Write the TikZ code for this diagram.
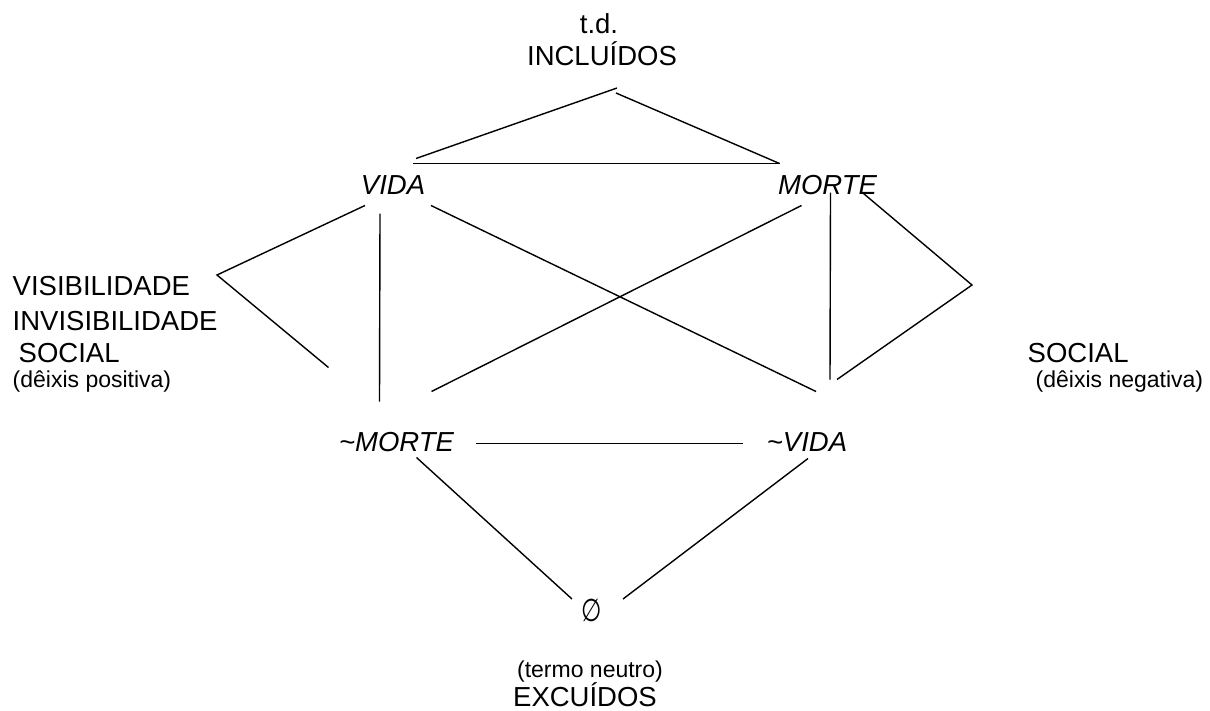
\documentclass[tikz,border=0pt]{standalone}
\usepackage{fontspec}
\setmainfont{Liberation Sans}
\newfontfamily\simbolo{DejaVu Sans}
\usepackage{tikz}
\usetikzlibrary{calc}

\tikzset{
  termo/.style={inner sep=0pt, font=\fontsize{27.5}{33}\selectfont\itshape},
  rotulo/.style={inner sep=0pt, anchor=base, font=\fontsize{27.5}{33}\selectfont},
  nota/.style={inner sep=0pt, anchor=base, font=\fontsize{23}{27}\selectfont},
}

\begin{document}
\begin{tikzpicture}[x=1pt, y=-1pt, line width=1.4pt]
  \useasboundingbox (0,0) rectangle (1210,710);

  \node[rotulo] (td) at (599,33) {t.d.};
  \node[rotulo] (incl) at (602,65) {INCLUÍDOS};
  \node[termo] (vida) at (393,185.5) {VIDA};
  \node[termo] (morte) at (827.5,185.5) {MORTE};
  \node[termo] (nmorte) at (396.5,442.5) {\textasciitilde MORTE};
  \node[termo] (nvida) at (807,442.5) {\textasciitilde VIDA};
  \node[inner sep=0pt, font=\fontsize{30}{33}\selectfont\simbolo] (vazio) at (592,610) {\scalebox{0.78}[1.05]{∅}};
  \node[nota] (neutro) at (590,677) {(termo neutro)};
  \node[rotulo] (excl) at (585,706) {EXCUÍDOS};

  \node[rotulo, anchor=base west] (vis) at (12,295) {VISIBILIDADE};
  \node[rotulo, anchor=base west] (invis) at (12,330) {INVISIBILIDADE};
  \node[rotulo, anchor=base west] (socpos) at (18,362) {SOCIAL};
  \node[nota, anchor=base west] (deixpos) at (12,387) {(dêixis positiva)};
  \node[rotulo, anchor=base west] (socneg) at (1027,362) {SOCIAL};
  \node[nota, anchor=base west] (deixneg) at (1035,387) {(dêixis negativa)};

  \coordinate (topo) at (617,88);
  \coordinate (bicoesq) at (217,275);
  \coordinate (bicodir) at (972,285);

  % triangulo de cima
  \draw ($(vida)+(23,-27)$) -- (topo);
  \draw ($(topo)+(-1,5)$) -- ($(morte)+(-48,-22)$);
  \draw ($(vida)+(20,-22)$) -- ($(morte)+(-48,-22)$);

  % dêixis
  \draw ($(vida)+(-28,20)$) -- (bicoesq) -- ($(nmorte)+(-68,-75)$);
  \draw ($(morte)+(36,8)$) -- (bicodir) -- ($(nvida)+(30,-63)$);

  \draw ($(vida)+(-13,28)$) -- ($(nmorte)+(-17,-41)$);
  \draw ($(vida)+(38,20)$) -- ($(nvida)+(9,-51)$);
  \draw ($(morte)+(-26,20)$) -- ($(nmorte)+(35,-51)$);
  \draw ($(morte)+(3,7)$) -- ($(nvida)+(23,-63)$);

  \draw ($(nmorte)+(79,1)$) -- ($(nvida)+(-64,1)$);
  \draw ($(nmorte)+(20,15)$) -- ($(vazio)+(-20,-11)$);
  \draw ($(nvida)+(1,16)$) -- ($(vazio)+(31,-11)$);
\end{tikzpicture}
\end{document}
